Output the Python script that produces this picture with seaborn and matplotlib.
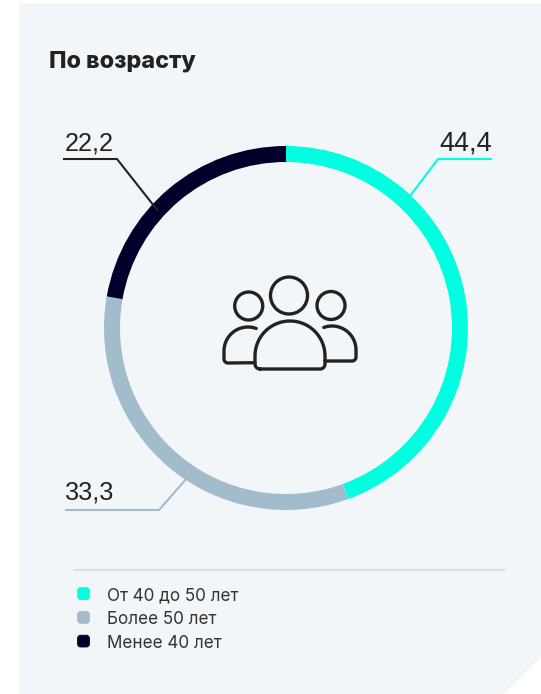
import numpy as np
import matplotlib
matplotlib.use("Agg")
import matplotlib.pyplot as plt
from matplotlib.patches import Polygon, Circle, FancyBboxPatch
import seaborn as sns

categories = ["От 40 до 50 лет", "Более 50 лет", "Менее 40 лет"]
values = [44.4, 33.3, 22.2]
palette = ["#00FFE0", "#A3BCCC", "#00002B"]
title = "По возрасту"

sns.set_theme(style="white")
plt.rcParams["font.family"] = ["Inter", "DejaVu Sans"]

W, H = 541, 694
fig = plt.figure(figsize=(W / 100, H / 100), dpi=100, facecolor="white")

back = fig.add_axes([0, 0, 1, 1], zorder=0)
back.set_xlim(0, W); back.set_ylim(H, 0); back.axis("off")
back.add_patch(Polygon([(19, 3), (541, 3), (541, 657), (504, 694), (19, 694)],
                       closed=True, fc="#F2F6F9", ec="none"))

# donut
cx, cy, R = 286, 328, 182
ax = fig.add_axes([(cx - R) / W, 1 - (cy + R) / H, 2 * R / W, 2 * R / H], zorder=1)
ax.patch.set_alpha(0)
ax.pie(values, colors=palette, startangle=90, counterclock=False, radius=1,
       wedgeprops=dict(width=16 / R, linewidth=0))
ax.set_xlim(-1, 1); ax.set_ylim(-1, 1); ax.set_aspect("equal")
ax.axis("off")

bg = fig.add_axes([0, 0, 1, 1], zorder=2)
bg.set_xlim(0, W); bg.set_ylim(H, 0); bg.axis("off")
bg.patch.set_alpha(0)

# leader lines and value labels
ink = "#222222"
leaders = [
    ([492, 438, 410], [159, 159, 196], palette[0], 439, 150, 19.5),
    ([65, 159, 187], [510, 510, 478], palette[1], 65, 499.5, 18.2),
    ([63, 117, 158], [159, 159, 211], ink, 65, 150, 18.2),
]
for (xs, ys, col, tx, ty, fs), v in zip(leaders, values):
    bg.plot(xs, ys, color=col, lw=1.5, solid_capstyle="butt", zorder=3)
    label = f"{v:.1f}".replace(".", ",")
    bg.text(tx, ty, label, fontsize=fs, color=ink, family=["Liberation Sans"],
            ha="left", va="baseline", zorder=4)

# title
bg.text(49, 67, title, fontsize=16.8, fontweight="heavy", color="#222222",
        ha="left", va="baseline")

# icon
lw = 2.4
icol = "#222222"
for (x, y, r) in [(289, 295.5, 18.5), (248.7, 306, 14), (331, 305.5, 14)]:
    bg.add_patch(Circle((x, y), r, fc="none", ec=icol, lw=lw, zorder=5))

def arc(xc, yc, r, a0, a1, n=40):
    t = np.radians(np.linspace(a0, a1, n))
    return np.column_stack([xc + r * np.cos(t), yc - r * np.sin(t)])

def stroke(pts):
    bg.plot(pts[:, 0], pts[:, 1], color=icol, lw=lw, zorder=5,
            solid_capstyle="round", solid_joinstyle="round")

# centre body
body = np.vstack([arc(260, 364, 5, 270, 180),
                  arc(290, 356, 35, 180, 0),
                  arc(320, 364, 5, 0, -90)])
stroke(np.vstack([body, body[:1]]))
# left body
stroke(np.vstack([[[255, 362.7]], arc(228, 359, 4, 270, 180), arc(248, 351, 24, 180, 70)]))
# right body
stroke(np.vstack([[[325, 361]], arc(352, 357, 4, 270, 360), arc(332, 350, 24, 0, 110)]))

# legend
bg.plot([74, 505], [570, 570], color="#D6E0E7", lw=1.5, zorder=3)
for y, c, lab in zip([593.5, 617.3, 641], palette, categories):
    bg.add_patch(FancyBboxPatch((77.6, y - 5.8), 11.8, 11.8, boxstyle="round,pad=0,rounding_size=3",
                                fc=c, ec=c, lw=0.6, zorder=4))
    bg.text(107, y + 0.5, lab, fontsize=12.3, color="#333333", ha="left", va="center_baseline", zorder=4)

fig.savefig("out.png", dpi=100)
